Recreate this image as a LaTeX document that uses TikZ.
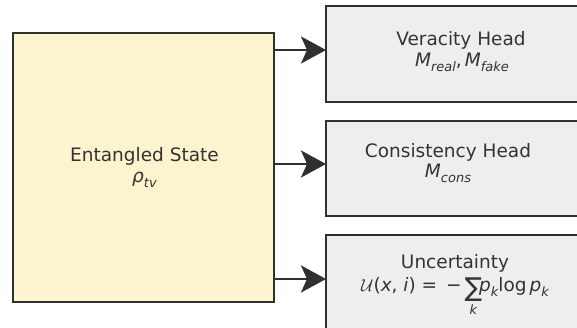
\documentclass[tikz,border=0pt]{standalone}
\usepackage{amsmath}
\usepackage{fontspec}
\setmainfont{DejaVu Sans}
\usetikzlibrary{arrows.meta}
\definecolor{ink}{HTML}{303030}
\definecolor{txt}{HTML}{333333}
\definecolor{cream}{HTML}{FCF3CF}
\definecolor{pale}{HTML}{EDEFEE}
\newcommand\sbs[1]{\raisebox{-0.28em}{\fontsize{13}{13}\selectfont\itshape #1}}
\newcommand\bigsum{\ensuremath{\mathop{\raisebox{-0.3em}{\fontsize{26}{26}\selectfont ∑}}\limits_{\mbox{\fontsize{13}{13}\selectfont\itshape k}}}}
\begin{document}
\begin{tikzpicture}[x=1pt,y=-1pt,
  boxstyle/.style={draw=ink,line width=2.6pt},
  lbl/.style={text=txt,font=\fontsize{18.5}{22}\selectfont,inner sep=0pt,align=center},
  conn/.style={draw=ink,line width=2.6pt,-{Stealth[length=25pt,width=27pt,inset=6pt]}}]
\useasboundingbox (0,0) rectangle (577,328);
\clip (0,0) rectangle (577,328);
\fill[white] (0,0) rectangle (577,328);
% left box
\draw[boxstyle,fill=cream] (13,33) rectangle (274,302);
\coordinate (s1) at (274,50);
\coordinate (s2) at (274,164);
\coordinate (s3) at (274,279);
% right boxes
\draw[boxstyle,fill=pale] (326,6) rectangle (600,102);
\draw[boxstyle,fill=pale] (326,121) rectangle (600,216);
\draw[boxstyle,fill=pale] (326,235) rectangle (600,345);
\coordinate (t1) at (326,50);
\coordinate (t2) at (326,164);
\coordinate (t3) at (326,279);
% texts
\node[lbl] (lt1) at (144.5,156.5) {Entangled State};
\node[lbl] (lt2) at (144.5,180) {{\itshape ρ}\sbs{tv}};
\node[lbl] (a1) at (461,40) {Veracity Head};
\node[lbl] (a2) at (462,62) {{\itshape M}\sbs{real}{,}\,{\itshape M}\sbs{fake}};
\node[lbl] (b1) at (448,152) {Consistency Head};
\node[lbl] (b2) at (448,173) {{\itshape M}\sbs{cons}};
\node[lbl,anchor=base] (c1) at (455,268) {Uncertainty};
\node[lbl,anchor=base,text depth=0pt] (c2) at (455,291) {$\mathcal{U}$({\itshape x}, {\itshape i}) = \,−\,\bigsum\!{\itshape p}\sbs{k}log\,{\itshape p}\sbs{k}};
% connectors
\draw[conn] (s1) -- (t1);
\draw[conn] (s2) -- (t2);
\draw[conn] (s3) -- (t3);
\end{tikzpicture}
\end{document}
